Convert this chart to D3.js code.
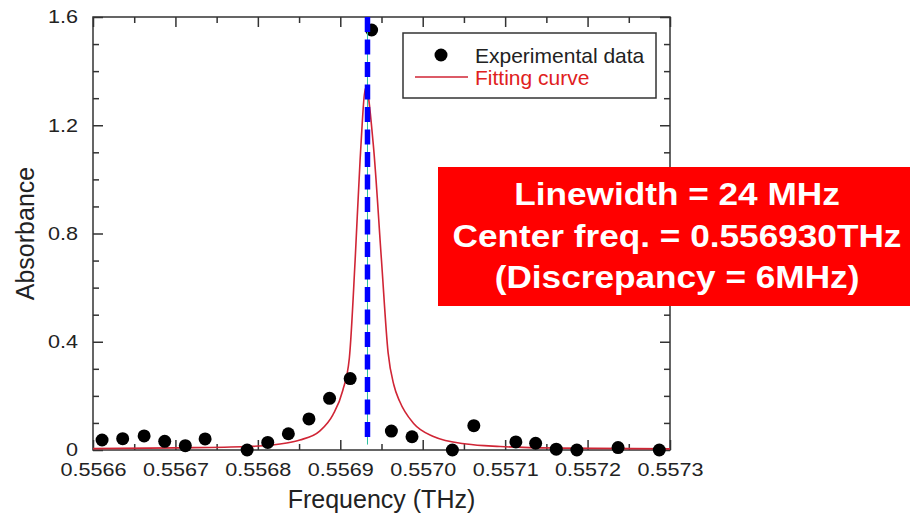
<!DOCTYPE html>
<html>
<head>
<meta charset="utf-8">
<script src="https://cdn.jsdelivr.net/npm/d3@7"></script>
<style>
  body { margin: 0; background: #fff; }
  svg { display: block; font-family: "Liberation Sans", Arial, sans-serif; }
</style>
</head>
<body>
<div id="chart"></div>
<script>
// measured points (frequency in THz, absorbance)
var expFreq = [0.556611, 0.556636, 0.556662, 0.556687, 0.556712, 0.556736, 0.556787,
  0.556812, 0.556837, 0.556862, 0.556887, 0.556912, 0.556938, 0.556962, 0.556987,
  0.557036, 0.557062, 0.557113, 0.557137, 0.557162, 0.557187, 0.557237, 0.557287];
var expAbs = [0.037, 0.042, 0.052, 0.032, 0.016, 0.041, 0.0,
  0.028, 0.060, 0.115, 0.191, 0.264, 1.552, 0.070, 0.049,
  0.0, 0.090, 0.030, 0.025, 0.003, 0.0, 0.009, 0.0];

// fitting curve
var fitFreq = [0.55660, 0.55670, 0.556787, 0.556835, 0.556851, 0.556875, 0.556891,
  0.556903, 0.556911, 0.556918, 0.556924, 0.556931, 0.556940, 0.556950, 0.556958,
  0.556965, 0.556972, 0.556989, 0.557013, 0.557053, 0.557094, 0.557166, 0.55730];
var fitAbs = [0.005, 0.008, 0.013, 0.026, 0.037, 0.070, 0.130,
  0.220, 0.340, 0.700, 1.070, 1.340, 1.130, 0.700, 0.360,
  0.240, 0.180, 0.098, 0.050, 0.022, 0.013, 0.007, 0.004];

var centerFreq = 0.556933;

var xTicks = [0.5566, 0.5567, 0.5568, 0.5569, 0.5570, 0.5571, 0.5572, 0.5573];
var xMinor = [0.55665, 0.55675, 0.55685, 0.55695, 0.55705, 0.55715, 0.55725];
var yTicks = [0, 0.4, 0.8, 1.2, 1.6];
var yMinor = [0.1, 0.2, 0.3, 0.5, 0.6, 0.7, 0.9, 1.0, 1.1, 1.3, 1.4, 1.5];

var infoLines = ["Linewidth = 24 MHz", "Center freq. = 0.556930THz", "(Discrepancy = 6MHz)"];

var W = 913, H = 517;
var margin = {top: 17, right: 243, bottom: 67, left: 93},
    width = W - margin.left - margin.right,
    height = H - margin.top - margin.bottom;

var svg = d3.select("#chart").append("svg")
    .attr("width", W)
    .attr("height", H);

svg.append("rect").attr("width", W).attr("height", H).attr("fill", "#fff");

var g = svg.append("g")
    .attr("transform", "translate(" + margin.left + "," + margin.top + ")");

var x = d3.scaleLinear().domain([0.5566, 0.5573]).range([0, width]);
var y = d3.scaleLinear().domain([0, 1.6]).range([height, 0]);

var axisColor = "#333";

function styleAxis(sel) {
  sel.select(".domain").remove();
  sel.selectAll("line").attr("stroke", axisColor).attr("stroke-width", 1.5);
  sel.selectAll("text").attr("fill", "#222").attr("font-size", 18)
    .attr("font-family", "Liberation Sans, Arial, sans-serif");
}

// bottom axis
g.append("g")
  .attr("transform", "translate(0," + height + ")")
  .call(d3.axisBottom(x).tickValues(xTicks).tickSizeInner(-10).tickSizeOuter(0)
    .tickPadding(13).tickFormat(d3.format(".4f")))
  .call(styleAxis)
  .selectAll("text").attr("transform", "scale(1.2,1)");
g.append("g")
  .attr("transform", "translate(0," + height + ")")
  .call(d3.axisBottom(x).tickValues(xMinor).tickSizeInner(-6).tickSizeOuter(0).tickFormat(""))
  .call(styleAxis);

// top axis (mirror)
g.append("g")
  .call(d3.axisTop(x).tickValues(xTicks).tickSizeInner(-10).tickSizeOuter(0).tickFormat(""))
  .call(styleAxis);
g.append("g")
  .call(d3.axisTop(x).tickValues(xMinor).tickSizeInner(-6).tickSizeOuter(0).tickFormat(""))
  .call(styleAxis);

// left axis
g.append("g")
  .call(d3.axisLeft(y).tickValues(yTicks).tickSizeInner(-10).tickSizeOuter(0)
    .tickPadding(12.5).tickFormat(function(d) { return d === 0 ? "0" : d.toFixed(1); }))
  .call(styleAxis)
  .selectAll("text").attr("transform", "scale(1.2,1)");
g.append("g")
  .call(d3.axisLeft(y).tickValues(yMinor).tickSizeInner(-6).tickSizeOuter(0).tickFormat(""))
  .call(styleAxis);

// right axis (mirror)
g.append("g")
  .attr("transform", "translate(" + width + ",0)")
  .call(d3.axisRight(y).tickValues(yTicks).tickSizeInner(-10).tickSizeOuter(0).tickFormat(""))
  .call(styleAxis);
g.append("g")
  .attr("transform", "translate(" + width + ",0)")
  .call(d3.axisRight(y).tickValues(yMinor).tickSizeInner(-6).tickSizeOuter(0).tickFormat(""))
  .call(styleAxis);

// frame
g.append("rect")
  .attr("width", width).attr("height", height)
  .attr("fill", "none").attr("stroke", axisColor).attr("stroke-width", 1.5);

// fitting curve
var fitData = fitFreq.map(function(f, i) { return [f, fitAbs[i]]; });
g.append("path")
  .datum(fitData)
  .attr("fill", "none")
  .attr("stroke", "#d02535")
  .attr("stroke-width", 1.6)
  .attr("d", d3.line()
    .x(function(d) { return x(d[0]); })
    .y(function(d) { return y(d[1]); })
    .curve(d3.curveMonotoneX));

// experimental points
g.selectAll("circle.pt")
  .data(expFreq.map(function(f, i) { return [f, expAbs[i]]; }))
  .enter().append("circle")
    .attr("class", "pt")
    .attr("cx", function(d) { return x(d[0]); })
    .attr("cy", function(d) { return y(d[1]); })
    .attr("r", 6.5)
    .attr("fill", "#000");

// center frequency marker
g.append("line")
  .attr("x1", x(centerFreq)).attr("x2", x(centerFreq))
  .attr("y1", y(1.6)).attr("y2", y(0.02))
  .attr("stroke", "#2cc0a0").attr("stroke-width", 1);
g.append("line")
  .attr("x1", x(centerFreq)).attr("x2", x(centerFreq))
  .attr("y1", y(1.6)).attr("y2", y(0.02))
  .attr("stroke", "#0000ff").attr("stroke-width", 5.5)
  .attr("stroke-dasharray", "15,7.5");

// axis titles
svg.append("text")
  .attr("x", margin.left + width / 2).attr("y", 508)
  .attr("text-anchor", "middle")
  .attr("font-size", 25).attr("fill", "#222")
  .text("Frequency (THz)");
svg.append("text")
  .attr("transform", "translate(34," + (margin.top + y(0.8)) + ") rotate(-90)")
  .attr("text-anchor", "middle")
  .attr("font-size", 25).attr("fill", "#222")
  .text("Absorbance");

// legend
var lg = svg.append("g");
lg.append("rect")
  .attr("x", 403).attr("y", 33).attr("width", 253).attr("height", 65)
  .attr("fill", "#fff").attr("stroke", axisColor).attr("stroke-width", 1.5);
lg.append("circle").attr("cx", 441).attr("cy", 55).attr("r", 6.5).attr("fill", "#000");
lg.append("text").attr("x", 475).attr("y", 63).attr("font-size", 21).attr("fill", "#222")
  .text("Experimental data");
lg.append("line").attr("x1", 415).attr("x2", 468).attr("y1", 77).attr("y2", 77)
  .attr("stroke", "#d02535").attr("stroke-width", 1.6);
lg.append("text").attr("x", 475).attr("y", 85).attr("font-size", 21).attr("fill", "#e02020")
  .text("Fitting curve");

// result box
svg.append("rect")
  .attr("x", 438).attr("y", 167).attr("width", 472).attr("height", 139)
  .attr("fill", "#ff0000");
var baselines = [205, 247, 288];
svg.selectAll("text.info")
  .data(infoLines)
  .enter().append("text")
    .attr("class", "info")
    .attr("transform", function(d, i) { return "translate(677," + baselines[i] + ") scale(1.1,1)"; })
    .attr("text-anchor", "middle")
    .attr("font-size", 32)
    .attr("font-weight", "bold")
    .attr("fill", "#fff")
    .text(function(d) { return d; });
</script>
</body>
</html>
